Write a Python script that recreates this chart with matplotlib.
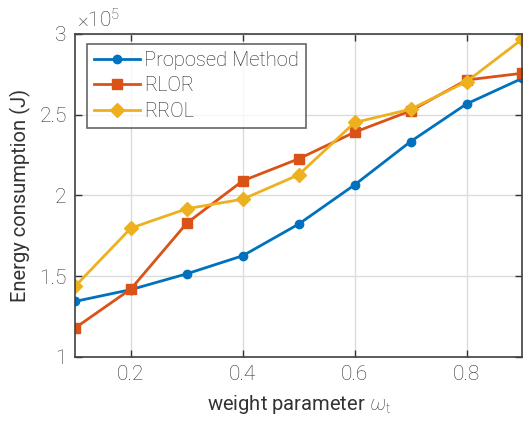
import numpy as np
import matplotlib
matplotlib.use('Agg')
import matplotlib.pyplot as plt

# data (energy in J)
weights = [0.1, 0.2, 0.3, 0.4, 0.5, 0.6, 0.7, 0.8, 0.9]
proposed = [1.344e5, 1.417e5, 1.515e5, 1.627e5, 1.823e5, 2.066e5, 2.334e5, 2.567e5, 2.726e5]
rlor = [1.179e5, 1.421e5, 1.829e5, 2.091e5, 2.227e5, 2.392e5, 2.524e5, 2.715e5, 2.757e5]
rrol = [1.437e5, 1.798e5, 1.918e5, 1.977e5, 2.128e5, 2.452e5, 2.534e5, 2.705e5, 2.969e5]
x_ticks = [0.2, 0.4, 0.6, 0.8]
y_ticks = [1, 1.5, 2, 2.5, 3]
y_tick_labels = ['1', '1.5', '2', '2.5', '3']

plt.rcParams['font.family'] = ['Roboto', 'DejaVu Sans']
plt.rcParams['font.weight'] = 'light'
plt.rcParams['mathtext.fontset'] = 'custom'
plt.rcParams['mathtext.rm'] = 'Roboto:light'
plt.rcParams['mathtext.it'] = 'Roboto:italic:light'
txt_color = '#333333'

fig = plt.figure(figsize=(5.23, 4.28), dpi=100)
ax = fig.add_axes([0.1434, 0.166, 0.8556, 0.7546])

scale = 1e5
ax.plot(weights, np.array(proposed) / scale, color='#0072BD', lw=2.0, marker='o', ms=6, label='Proposed Method')
ax.plot(weights, np.array(rlor) / scale, color='#D95319', lw=2.0, marker='s', ms=6.5, label='RLOR')
ax.plot(weights, np.array(rrol) / scale, color='#EDB120', lw=2.0, marker='D', ms=7, label='RROL')

ax.set_xlim(0.1, 0.9)
ax.set_ylim(1, 3)
ax.set_xticks(x_ticks)
ax.set_xticklabels([str(t) for t in x_ticks])
ax.set_yticks(y_ticks)
ax.set_yticklabels(y_tick_labels)
ax.grid(True, color='#dcdcdc', lw=1.0)
ax.set_axisbelow(True)
ax.tick_params(direction='in', length=5, width=1, top=True, right=True,
               labelsize=15, colors=txt_color, pad=6)
for sp in ax.spines.values():
    sp.set_color('#404040')
    sp.set_linewidth(1.2)

ax.set_xlabel(r'weight parameter $\omega_\mathrm{t}$', fontsize=14.5, color=txt_color, labelpad=6)
ax.set_ylabel('Energy consumption (J)', fontsize=14.5, color=txt_color, labelpad=6)
ax.text(0.005, 1.01, r'$\times10^5$', transform=ax.transAxes, fontsize=15,
        color=txt_color, va='bottom', ha='left')

leg = ax.legend(loc='upper left', fontsize=14.5, frameon=True, fancybox=False,
                bbox_to_anchor=(0.027, 0.97), borderaxespad=0.0,
                handlelength=2.3, handletextpad=0.2, borderpad=0.35,
                labelspacing=0.32)
leg.get_frame().set_edgecolor('#404040')
leg.get_frame().set_linewidth(1.2)
for t in leg.get_texts():
    t.set_color('#262626')

fig.savefig('out.png', dpi=100)
